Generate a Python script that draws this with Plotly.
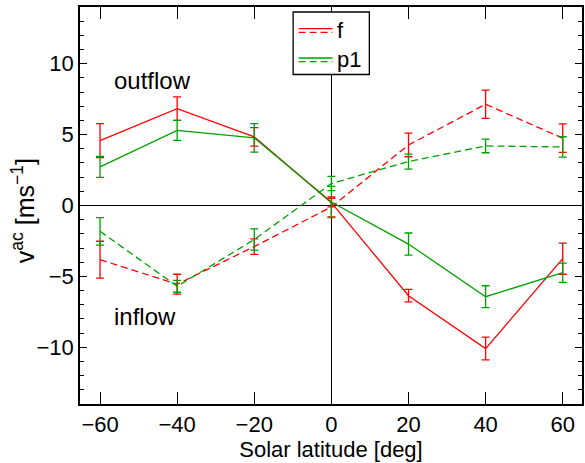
import plotly.graph_objects as go

lat = [-60, -40, -20, 0, 20, 40, 60]

# f mode
f_solid = [4.58, 6.83, 4.84, 0.2, -6.36, -10.09, -3.75]
f_solid_err = [1.2, 0.83, 0.65, 0.3, 0.44, 0.8, 1.1]
f_dash = [-3.82, -5.55, -2.9, -0.1, 4.27, 7.14, 4.75]
f_dash_err = [1.3, 0.7, 0.55, 0.7, 0.83, 1.0, 1.0]

# p1 mode
p1_solid = [2.72, 5.3, 4.77, 0.25, -2.72, -6.43, -4.74]
p1_solid_err = [0.74, 0.7, 1.0, 1.1, 0.78, 0.77, 0.68]
p1_dash = [-1.82, -5.7, -2.4, 1.55, 3.1, 4.2, 4.13]
p1_dash_err = [0.97, 0.42, 0.75, 0.5, 0.53, 0.48, 0.72]

RED = "#ff0000"
GREEN = "#00a000"
FONT = "Liberation Sans, Arial, sans-serif"
DASH = "7px,4px"

fig = go.Figure()

def add(y, err, color, dash):
    fig.add_trace(go.Scatter(
        x=lat, y=y, mode="lines",
        line=dict(color=color, width=1.3, dash=dash),
        error_y=dict(type="data", array=err, visible=True, color=color,
                     thickness=1.3, width=4),
        showlegend=False,
    ))

add(f_solid, f_solid_err, RED, "solid")
add(f_dash, f_dash_err, RED, DASH)
add(p1_solid, p1_solid_err, GREEN, "solid")
add(p1_dash, p1_dash_err, GREEN, DASH)

axis_common = dict(
    showline=True, linecolor="black", linewidth=1.6, mirror="ticks",
    ticks="inside", tickcolor="black", showgrid=False,
    tickfont=dict(family=FONT, size=22, color="black"),
    zeroline=True, zerolinecolor="black", zerolinewidth=1,
)

fig.update_layout(
    width=585, height=463,
    margin=dict(l=80, r=1, t=7, b=59),
    plot_bgcolor="white", paper_bgcolor="white",
    font=dict(family=FONT, size=22, color="black"),
    xaxis=dict(range=[-65.2, 65], tickvals=[-60, -40, -20, 0, 20, 40, 60],
               ticklen=12, tickwidth=1,
               title=dict(text="Solar latitude [deg]", font=dict(family=FONT, size=22), standoff=2),
               **axis_common),
    yaxis=dict(range=[-14, 14], tickvals=[-10, -5, 0, 5, 10],
               ticklen=7, tickwidth=1,
               minor=dict(dtick=1, ticklen=4, ticks="inside", tickcolor="black"),
               **axis_common),
    showlegend=False,
)

x0p, x1p = 80.0, 584.0
y0p, y1p = 7.0, 404.0
def px(xpix):
    return (xpix - x0p) / (x1p - x0p)
def py(ypix):
    return (y1p - ypix) / (y1p - y0p)

# y-axis title
fig.add_annotation(xref="paper", yref="paper", x=px(23), y=py(211),
                   text="v<sup>ac</sup> [ms<sup>\u22121</sup>]", textangle=-90,
                   showarrow=False, xanchor="center", yanchor="middle",
                   font=dict(family=FONT, size=25, color="black"))

fig.add_annotation(x=-56.9, y=8.85, text="outflow", showarrow=False, xanchor="left",
                   font=dict(family=FONT, size=24, color="black"))
fig.add_annotation(x=-56.8, y=-7.8, text="inflow", showarrow=False, xanchor="left",
                   font=dict(family=FONT, size=24, color="black"))

# custom legend (solid + dashed sample per entry)
fig.add_shape(type="rect", xref="paper", yref="paper",
              x0=px(294), x1=px(370.5), y0=py(74.5), y1=py(12),
              line=dict(color="black", width=1.3), fillcolor="white", layer="above")
entries = [("f", RED, 28.7), ("p1", GREEN, 58.0)]
for name, col, yy in entries:
    fig.add_shape(type="line", xref="paper", yref="paper",
                  x0=px(299.5), x1=px(333.5), y0=py(yy), y1=py(yy),
                  line=dict(color=col, width=1.3), layer="above")
    fig.add_shape(type="line", xref="paper", yref="paper",
                  x0=px(299.5), x1=px(333.5), y0=py(yy + 3.6), y1=py(yy + 3.6),
                  line=dict(color=col, width=1.3, dash=DASH), layer="above")
    fig.add_annotation(xref="paper", yref="paper", x=px(336), y=py(yy + 1.8),
                       text=name, showarrow=False, xanchor="left", yanchor="middle",
                       font=dict(family=FONT, size=22, color="black"))

fig.write_html("out.html")
